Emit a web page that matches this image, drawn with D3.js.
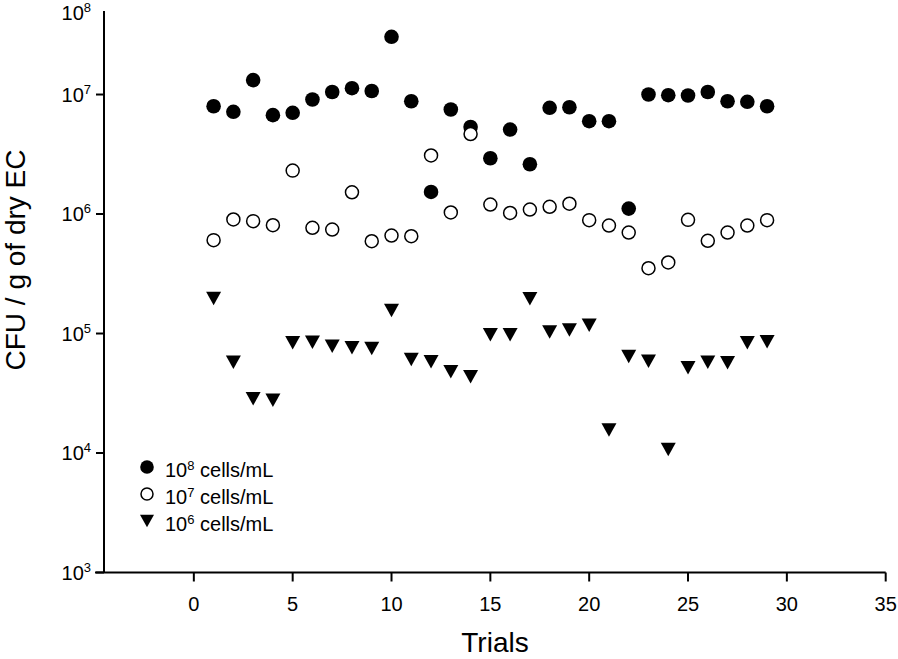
<!DOCTYPE html>
<html>
<head>
<meta charset="utf-8">
<script src="https://cdn.jsdelivr.net/npm/d3@7"></script>
<style>
  html, body { margin: 0; padding: 0; background: #fff; }
  svg { display: block; font-family: Arial, "Liberation Sans", sans-serif; }
</style>
</head>
<body>
<svg id="chart" width="898" height="659"></svg>
<script>
// ---- data ----
const trials = [1,2,3,4,5,6,7,8,9,10,11,12,13,14,15,16,17,18,19,20,21,22,23,24,25,26,27,28,29];
const cells1e8 = [7.98e6,7.17e6,1.32e7,6.72e6,7.03e6,9.08e6,1.05e7,1.13e7,1.07e7,3.04e7,8.79e6,1.53e6,7.49e6,5.35e6,2.93e6,5.09e6,2.61e6,7.74e6,7.83e6,5.98e6,5.98e6,1.11e6,1.0e7,9.87e6,9.81e6,1.05e7,8.79e6,8.69e6,7.98e6];
const cells1e7 = [6.04e5,9.0e5,8.71e5,8.06e5,2.31e6,7.67e5,7.42e5,1.52e6,5.92e5,6.61e5,6.52e5,3.09e6,1.03e6,4.67e6,1.2e6,1.02e6,1.09e6,1.15e6,1.22e6,8.88e5,8.01e5,7.0e5,3.52e5,3.93e5,8.94e5,5.97e5,7.0e5,8.01e5,8.88e5];
const cells1e6 = [1.96e5,5.75e4,2.84e4,2.77e4,8.35e4,8.45e4,7.83e4,7.59e4,7.49e4,1.56e5,6.05e4,5.8e4,4.79e4,4.35e4,9.75e4,9.75e4,1.95e5,1.03e5,1.07e5,1.17e5,1.56e4,6.43e4,5.87e4,1.07e4,5.16e4,5.75e4,5.69e4,8.35e4,8.53e4];
const xTicks = [0,5,10,15,20,25,30,35];
const yTicks = [1e3,1e4,1e5,1e6,1e7];
const yTickExps = ["3","4","5","6","7"];
const yTopExp = "8";
const seriesNames = ["8","7","6"]; // exponents for legend "10^n cells/mL"
const xTitle = "Trials";
const yTitle = "CFU / g of dry EC";

// ---- layout ----
const svg = d3.select("#chart");
const x = d3.scaleLinear().domain([-5, 35]).range([95, 885.7]);
const y = d3.scaleLog().domain([1e3, 5e7]).range([572.5, 11]);
const yAxisX = 104;

// axes lines
svg.append("line").attr("x1", x(-5)).attr("x2", x(35)).attr("y1", y(1e3)).attr("y2", y(1e3))
  .attr("stroke", "#000").attr("stroke-width", 2);
svg.append("line").attr("x1", yAxisX).attr("x2", yAxisX).attr("y1", y(5e7)).attr("y2", y(1e3))
  .attr("stroke", "#000").attr("stroke-width", 2);

// x ticks
const xg = svg.append("g");
xTicks.forEach(t => {
  xg.append("line").attr("x1", x(t)).attr("x2", x(t)).attr("y1", y(1e3)).attr("y2", y(1e3) + 9)
    .attr("stroke", "#000").attr("stroke-width", 2);
  xg.append("text").attr("x", x(t)).attr("y", y(1e3) + 38).attr("text-anchor", "middle")
    .attr("font-size", 20).text(t);
});

// y ticks
const yg = svg.append("g");
yTicks.forEach((v, i) => {
  yg.append("line").attr("x1", yAxisX - 8).attr("x2", yAxisX).attr("y1", y(v)).attr("y2", y(v))
    .attr("stroke", "#000").attr("stroke-width", 2);
  const t = yg.append("text").attr("x", 91).attr("y", y(v) + 7).attr("text-anchor", "end").attr("font-size", 20);
  t.append("tspan").text("10");
  t.append("tspan").attr("font-size", 13).attr("dy", -8).text(yTickExps[i]);
});
{
  const t = yg.append("text").attr("x", 91).attr("y", y(5e7) + 9).attr("text-anchor", "end").attr("font-size", 20);
  t.append("tspan").text("10");
  t.append("tspan").attr("font-size", 13).attr("dy", -8).text(yTopExp);
}

// titles
svg.append("text").attr("x", 495).attr("y", 652).attr("text-anchor", "middle").attr("font-size", 28).text(xTitle);
svg.append("text").attr("transform", "translate(25,260) rotate(-90)").attr("text-anchor", "middle")
  .attr("font-size", 28).text(yTitle);

// markers
const triPath = (cx, cy, w, h) => `M${cx - w/2},${cy - h/2}L${cx + w/2},${cy - h/2}L${cx},${cy + h/2}Z`;

svg.append("g").selectAll("circle").data(trials.map((t, i) => [t, cells1e8[i]])).join("circle")
  .attr("cx", d => x(d[0])).attr("cy", d => y(d[1])).attr("r", 7.3).attr("fill", "#000");
svg.append("g").selectAll("circle").data(trials.map((t, i) => [t, cells1e7[i]])).join("circle")
  .attr("cx", d => x(d[0])).attr("cy", d => y(d[1])).attr("r", 6.5).attr("fill", "#fff")
  .attr("stroke", "#000").attr("stroke-width", 1.5);
svg.append("g").selectAll("path").data(trials.map((t, i) => [t, cells1e6[i]])).join("path")
  .attr("d", d => triPath(x(d[0]), y(d[1]), 15, 13.5)).attr("fill", "#000");

// legend
const legRows = [467, 494, 521];
const lg = svg.append("g");
lg.append("circle").attr("cx", 147).attr("cy", legRows[0]).attr("r", 6.8).attr("fill", "#000");
lg.append("circle").attr("cx", 147).attr("cy", legRows[1]).attr("r", 6).attr("fill", "#fff")
  .attr("stroke", "#000").attr("stroke-width", 1.5);
lg.append("path").attr("d", triPath(147, legRows[2], 14, 12.5)).attr("fill", "#000");
seriesNames.forEach((e, i) => {
  const t = lg.append("text").attr("x", 165).attr("y", legRows[i] + 9.5).attr("font-size", 20);
  t.append("tspan").text("10");
  t.append("tspan").attr("font-size", 13).attr("dy", -7).text(e);
  t.append("tspan").attr("dy", 7).text(" cells/mL");
});
</script>
</body>
</html>
